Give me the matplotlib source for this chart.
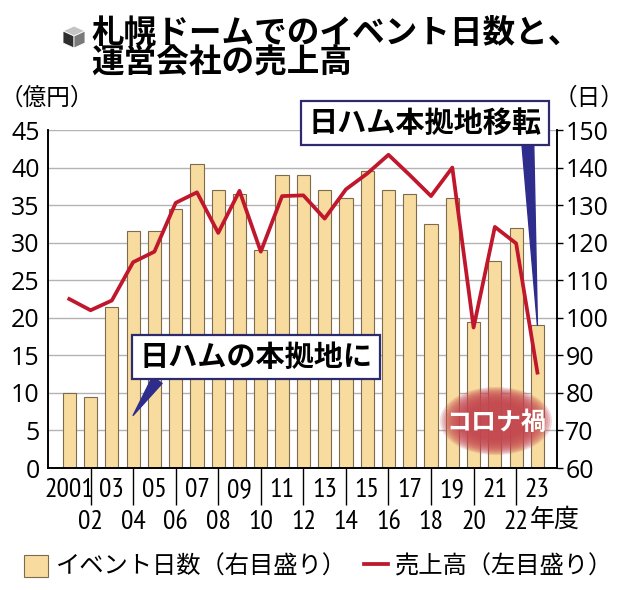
"""札幌ドームでのイベント日数と、運営会社の売上高 (bar + line, twin axes)."""
import matplotlib
matplotlib.use("Agg")
import matplotlib.pyplot as plt
from matplotlib import font_manager
from matplotlib.font_manager import FontProperties
from matplotlib.patches import Ellipse, Polygon

# ---------------------------------------------------------------------------
# data
years = list(range(2001, 2024))
event_days = [80, 79, 103, 123, 123, 129, 141, 134, 133, 118, 138, 138,
              134, 132, 139, 134, 133, 125, 132, 99, 115, 124, 98]      # 日, right axis
sales = [22.5, 21.0, 22.3, 27.4, 28.8, 35.3, 36.7, 31.3, 36.9, 28.8, 36.2,
         36.3, 33.2, 37.1, 39.2, 41.7, 39.0, 36.2, 40.0, 18.7, 32.1, 29.9, 12.7]  # 億円, left axis

odd_years = years[0::2]
odd_labels = ["2001"] + [f"{y % 100:02d}" for y in odd_years[1:]]
even_years = years[1::2]
even_labels = [f"{y % 100:02d}" for y in even_years]

left_ticks = list(range(0, 46, 5))
right_ticks = list(range(60, 151, 10))

title_lines = ["札幌ドームでのイベント日数と、", "運営会社の売上高"]
bar_label = "イベント日数（右目盛り）"
line_label = "売上高（左目盛り）"


def pick(names):
    have = {f.name for f in font_manager.fontManager.ttflist}
    for n in names:
        if n in have:
            return n
    return "DejaVu Sans"


def narrow_font(size):
    # a condensed face for the crowded year labels, if one is installed
    keys = ("SansNarrow-Regular", "Sans-Narrow", "DejaVuSansCondensed.ttf",
            "Condensed-Regular", "SemiCondensed-Regular")
    for key in keys:
        for f in font_manager.fontManager.ttflist:
            if key in f.fname and "Bold" not in f.fname and "Italic" not in f.fname:
                return FontProperties(fname=f.fname, size=size)
    return FontProperties(family=pick(["Open Sans", "DejaVu Sans"]),
                          size=size - 3)


JP = ["Noto Sans CJK JP", "DejaVu Sans"]
NUM = [pick(["Open Sans", "Noto Sans", "DejaVu Sans"])]

W, H = 640, 590
fx = lambda px: px / W          # pixel -> figure fraction
fy = lambda py: 1 - py / H

fig = plt.figure(figsize=(6.4, 5.9), dpi=100)
ax = fig.add_axes([fx(48), fy(468), (557 - 48) / W, (468 - 130) / H])
ax2 = ax.twinx()
ax.set_zorder(ax2.get_zorder() + 1)
ax.patch.set_visible(False)

# bars (right scale)
bars = ax2.bar(years, event_days, width=0.62, color="#f8dc9f",
               edgecolor="#7d6c4c", linewidth=0.8, zorder=2)
ax2.set_ylim(60, 150)
ax2.set_yticks(right_ticks)
ax2.grid(axis="y", color="#b3b3b3", lw=1)
ax2.set_axisbelow(True)

# line (left scale)
line, = ax.plot(years, sales, color="#c0172c", lw=2.7, zorder=3)
ax.set_ylim(0, 45)
ax.set_yticks(left_ticks)
ax.set_xlim(2000, 2023.92)

for a in (ax, ax2):
    a.spines["top"].set_visible(False)
    for s in ("left", "right", "bottom"):
        a.spines[s].set_linewidth(1.2)
        a.spines[s].set_color("black")

ax.tick_params(axis="y", length=0, pad=6, labelsize=18)
ax2.tick_params(axis="y", length=4, width=1, pad=2, labelsize=18)
for lab in ax.get_yticklabels() + ax2.get_yticklabels():
    lab.set_family(NUM)

# x: even years below the separators, odd years in between
ax.set_xticks(even_years)
ax.set_xticklabels(even_labels)
ax.set_xticks(odd_years, minor=True)
ax.set_xticklabels(odd_labels, minor=True)
ax.tick_params(axis="x", which="major", length=26.5, width=1, pad=3.5)
ax.tick_params(axis="x", which="minor", length=0, pad=7)
xfont = narrow_font(20)
for lab in ax.get_xticklabels() + ax.get_xticklabels(minor=True):
    lab.set_fontproperties(xfont)
ax.annotate("年度", xy=(2022, 0), xycoords=("data", "axes fraction"),
            xytext=(14, -52), textcoords="offset pixels", ha="left",
            va="center", fontsize=18, family=JP)

# unit labels
fig.text(fx(47), fy(98), "（億円）", ha="center", va="center", fontsize=17,
         family=JP)
fig.text(fx(589), fy(98), "（日）", ha="center", va="center", fontsize=17,
         family=JP)

# title + cube mark
fig.text(fx(91), fy(33), title_lines[0], ha="left", va="center",
         fontsize=23.5, fontweight="bold", family=JP)
fig.text(fx(91), fy(63), title_lines[1], ha="left", va="center",
         fontsize=23.5, fontweight="bold", family=JP)
cube = {
    "#c4c4c4": [(74, 26), (85, 31), (74, 36), (63, 31)],
    "#2e2e2e": [(63, 31), (74, 36), (74, 48), (63, 43)],
    "#7a7a7a": [(74, 36), (85, 31), (85, 43), (74, 48)],
}
for col, pts in cube.items():
    fig.add_artist(Polygon([(fx(x), fy(y)) for x, y in pts], closed=True,
                           fc=col, ec="white", lw=0.6,
                           transform=fig.transFigure))

# callouts
navy = "#2e2c8c"
box = dict(boxstyle="square,pad=0.25", fc="white", ec="#2d2b6e", lw=1.6)
ax2.annotate("日ハム本拠地移転", xy=(2023, 98), xytext=(fx(425), fy(123)),
             textcoords="figure fraction", ha="center", va="center",
             fontsize=21, fontweight="bold", family=JP, bbox=box, zorder=5,
             arrowprops=dict(arrowstyle="wedge,tail_width=0.4", fc=navy,
                             ec=navy, relpos=(0.94, 0.0), shrinkA=0,
                             shrinkB=0))
ax2.annotate("日ハムの本拠地に", xy=(2004, 74), xytext=(fx(256), fy(357)),
             textcoords="figure fraction", ha="center", va="center",
             fontsize=21, fontweight="bold", family=JP, bbox=box, zorder=5,
             arrowprops=dict(arrowstyle="wedge,tail_width=0.4", fc=navy,
                             ec=navy, relpos=(0.1, 0.0), shrinkA=0,
                             shrinkB=0))

# コロナ禍 on a soft red blob
for i in range(14):
    k = 1.0 - i * 0.035
    ax2.add_patch(Ellipse((fx(496), fy(421)), fx(112) * k, (68 / H) * k,
                          transform=fig.transFigure, fc="#c4474f", ec="none",
                          alpha=0.2, zorder=4, clip_on=False))
ax2.text(fx(496), fy(423), "コロナ禍", transform=fig.transFigure,
         ha="center", va="center", color="white", fontsize=18,
         fontweight="bold", family=JP, zorder=6)

# legend
fig.legend([bars, line], [bar_label, line_label], loc="center left",
           bbox_to_anchor=(fx(12), fy(567)), ncol=2, frameon=False,
           handlelength=1.0, handleheight=1.0, handletextpad=0.3,
           columnspacing=0.7, borderpad=0, prop=dict(family=JP, size=17.5))

fig.savefig("out.png", dpi=100, facecolor="white")
